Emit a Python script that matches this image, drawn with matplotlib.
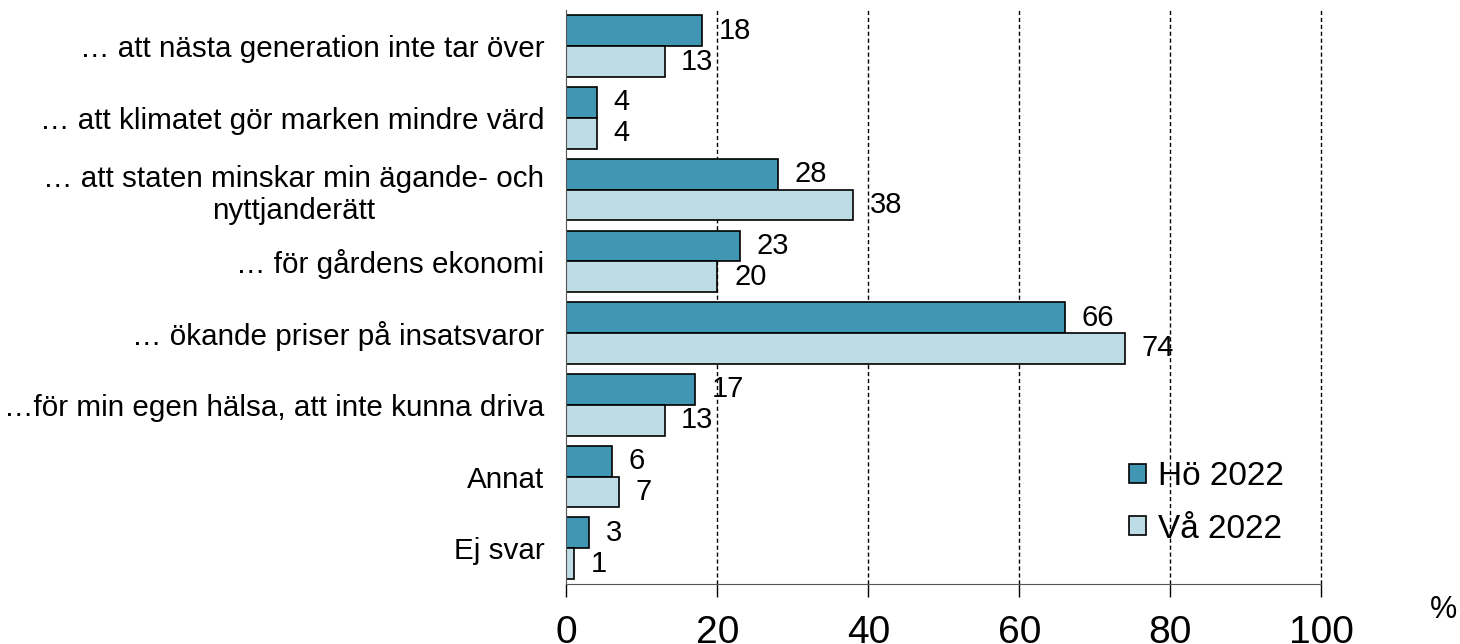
import numpy as np
import matplotlib.pyplot as plt

## fonts close to Arial
plt.rcParams['font.family'] = ['Liberation Sans', 'DejaVu Sans']

## data
kategorier = [
    "… att nästa generation inte tar över",
    "… att klimatet gör marken mindre värd",
    "… att staten minskar min ägande- och\nnyttjanderätt",
    "… för gårdens ekonomi",
    "… ökande priser på insatsvaror",
    "…för min egen hälsa, att inte kunna driva",
    "Annat",
    "Ej svar",
]
ho_2022 = [18, 4, 28, 23, 66, 17, 6, 3]
va_2022 = [13, 4, 38, 20, 74, 13, 7, 1]
serier = ["Hö 2022", "Vå 2022"]
xticks = [0, 20, 40, 60, 80, 100]

farg_mork = "#4196B4"
farg_ljus = "#BEDCE5"

fig = plt.figure(figsize=(14.6, 6.44), dpi=100)
ax = fig.add_axes([0.388, 0.093, 0.517, 0.891])

y = np.arange(len(kategorier))
h = 0.43

b1 = ax.barh(y - h / 2, ho_2022, height=h, color=farg_mork, edgecolor="black", linewidth=1.2, label=serier[0])
b2 = ax.barh(y + h / 2, va_2022, height=h, color=farg_ljus, edgecolor="black", linewidth=1.2, label=serier[1])

## value labels
for bars, vals in [(b1, ho_2022), (b2, va_2022)]:
    for rect, v in zip(bars, vals):
        ax.text(rect.get_width() + 2.2, rect.get_y() + rect.get_height() / 2, str(v),
                va="center", ha="left", fontsize=21)

ax.set_ylim(len(kategorier) - 0.5, -0.5)
ax.set_xlim(0, 100)
ax.set_yticks(y)
ax.set_yticklabels(kategorier, fontsize=21.3, multialignment="center", linespacing=1.2)
ax.tick_params(axis="y", length=0, pad=16)
ax.set_xticks(xticks)
ax.set_xticklabels([str(t) for t in xticks], fontsize=28)
ax.tick_params(axis="x", length=9, width=1, pad=13)

## dashed grid lines
for t in xticks[1:]:
    ax.axvline(t, color="black", linestyle=(0, (3, 2)), linewidth=1, zorder=0, clip_on=False)

ax.spines["top"].set_visible(False)
ax.spines["right"].set_visible(False)
ax.spines["bottom"].set_color("#555555")
ax.spines["left"].set_color("#555555")

leg = ax.legend(loc="upper left", bbox_to_anchor=(0.728, 0.238), frameon=False, fontsize=24,
                handlelength=0.5, handleheight=0.5, handletextpad=0.35, labelspacing=0.65,
                borderaxespad=0)

fig.text(0.998, 0.053, "%", fontsize=22, ha="right", va="center")

plt.savefig("out.png", dpi=100)
